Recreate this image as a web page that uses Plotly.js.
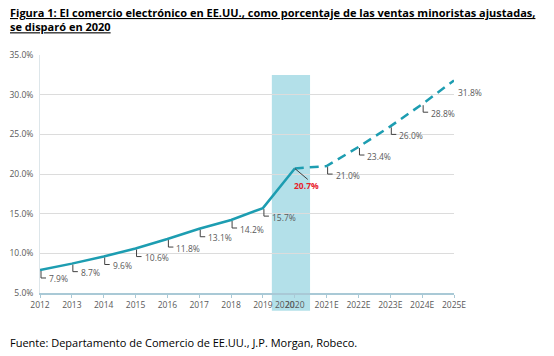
<!DOCTYPE html>
<html><head><meta charset="utf-8">
<script src="https://cdn.plot.ly/plotly-3.0.1.min.js"></script>
<style>body{margin:0;background:#fff}#c{width:554px;height:356px}</style>
</head><body><div id="c"></div>
<script>
const categories = ["2012","2013","2014","2015","2016","2017","2018","2019","2020","2021E","2022E","2023E","2024E","2025E"];
const values = [7.9,8.7,9.6,10.6,11.8,13.1,14.2,15.7,20.7,21.0,23.4,26.0,28.8,31.8];
const valueLabels = ["7.9%","8.7%","9.6%","10.6%","11.8%","13.1%","14.2%","15.7%","20.7%","21.0%","23.4%","26.0%","28.8%","31.8%"];
const actualCount = 9; // 2012..2020 actual, rest estimates
const highlightCategory = "2020";
const yTicks = [5,10,15,20,25,30,35];
const yTickLabels = ["5.0%","10.0%","15.0%","20.0%","25.0%","30.0%","35.0%"];
const titleText = "Figura 1: El comercio electrónico en EE.UU., como porcentaje de las ventas minoristas ajustadas,<br>se disparó en 2020";
const sourceText = "Fuente: Departamento de Comercio de EE.UU., J.P. Morgan, Robeco.";

const teal = "#1d9db1";
const font = "Open Sans, Liberation Sans, sans-serif";
const hi = categories.indexOf(highlightCategory);

const traces = [
  {x: categories.slice(0, actualCount), y: values.slice(0, actualCount), type: "scatter", mode: "lines",
   line: {color: teal, width: 2.5}, hoverinfo: "skip"},
  {x: categories.slice(actualCount-1), y: values.slice(actualCount-1), type: "scatter", mode: "lines",
   line: {color: teal, width: 2.5, dash: "9px,6px"}, hoverinfo: "skip"}
];

const shapes = [{
  type: "rect", xref: "x", yref: "paper", x0: hi - 0.72, x1: hi + 0.48, y0: -0.075, y1: 0.916,
  fillcolor: "#b3e0e9", line: {width: 0}, layer: "below"
}];
const annotations = [];
categories.forEach((c, i) => {
  const diag = (i === hi || i === categories.length - 1);
  if (diag) {
    const end = i === hi ? [13, -11] : [15, -6];
    shapes.push({type: "path", xref: "x", yref: "y", xsizemode: "pixel", ysizemode: "pixel",
      xanchor: i, yanchor: values[i], path: `M0,0 L${end[0]},${end[1]}`,
      line: {color: "#404040", width: 1}});
    annotations.push({x: i, y: values[i], xref: "x", yref: "y", text: i === hi ? "<b>" + valueLabels[i] + "</b>" : valueLabels[i],
      showarrow: false, xanchor: "left", yanchor: "middle", xshift: i === hi ? -3 : 2, yshift: i === hi ? -17 : -12,
      font: {family: font, size: 8.5, color: i === hi ? "#e8202a" : "#595959"}});
  } else {
    shapes.push({type: "path", xref: "x", yref: "y", xsizemode: "pixel", ysizemode: "pixel",
      xanchor: i, yanchor: values[i], path: "M1,-1 L1,-8 L6,-8",
      line: {color: "#404040", width: 1}});
    annotations.push({x: i, y: values[i], xref: "x", yref: "y", text: valueLabels[i],
      showarrow: false, xanchor: "left", yanchor: "middle", xshift: 7, yshift: -9,
      font: {family: font, size: 8.5, color: "#595959"}});
  }
});
annotations.push({x: hi, y: 0, xref: "x", yref: "paper", text: highlightCategory, showarrow: false,
  xanchor: "center", yanchor: "top", xshift: -10, yshift: -4, font: {family: font, size: 8.5, color: "#595959"}});
annotations.push({x: 0, y: 1, xref: "paper", yref: "paper", xanchor: "left", yanchor: "top", align: "left",
  text: "<b><u>" + titleText.replace("<br>", "</u></b><br><b><u>") + "</u></b>", showarrow: false, xshift: -32, yshift: 52,
  font: {family: font, size: 11, color: "#000"}});
annotations.push({x: 0, y: 0, xref: "paper", yref: "paper", xanchor: "left", yanchor: "top", align: "left",
  text: sourceText, showarrow: false, xshift: -32, yshift: -40, font: {family: font, size: 11, color: "#000"}});

const layout = {
  width: 554, height: 356, margin: {l: 40, r: 100, t: 55, b: 63},
  paper_bgcolor: "#fff", plot_bgcolor: "#fff", showlegend: false,
  xaxis: {type: "category", range: [0, categories.length - 1], showgrid: false, zeroline: false,
    showline: true, linecolor: "#a9c9d6", linewidth: 1.5, ticks: "outside", ticklen: 3, tickcolor: "#a9c9d6",
    tickfont: {family: font, size: 8.5, color: "#595959"}, fixedrange: true},
  yaxis: {range: [5, 35], tickvals: yTicks, ticktext: yTickLabels, showgrid: true, gridcolor: "#dcdcdc",
    zeroline: false, showline: true, linecolor: "#dde6ea", ticks: "", ticklabelstandoff: 4,
    tickfont: {family: font, size: 8.5, color: "#595959"}, fixedrange: true},
  shapes: shapes, annotations: annotations
};
Plotly.newPlot("c", traces, layout, {displayModeBar: false, staticPlot: true});
</script></body></html>
